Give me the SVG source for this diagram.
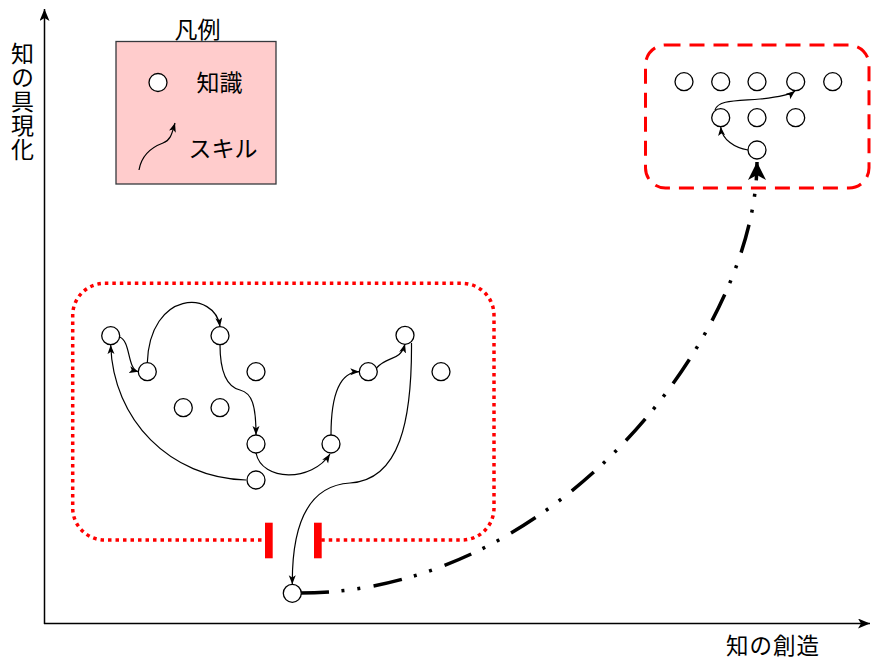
<svg xmlns="http://www.w3.org/2000/svg" width="873" height="660" viewBox="0 0 873 660">
<defs>
<style>
.n{fill:#fff;stroke:#000;stroke-width:1.3}
.e{fill:none;stroke:#000;stroke-width:1.2;marker-end:url(#a)}
.t{font-family:"Noto Sans CJK JP","Noto Sans",sans-serif;font-size:23px;fill:#000;text-anchor:middle;dominant-baseline:central}
.v{font-family:"Noto Sans CJK JP","Noto Sans",sans-serif;font-size:23px;fill:#000;writing-mode:vertical-rl;text-orientation:upright;letter-spacing:1px}
.ax{fill:none;stroke:#000;stroke-width:1.5;marker-end:url(#ax)}
</style>
<marker id="a" markerUnits="userSpaceOnUse" markerWidth="10" markerHeight="8" refX="9" refY="3.5" orient="auto"><path d="M0,0 L9,3.5 L0,7 L2.2,3.5 Z" fill="#000"/></marker>
<marker id="ax" markerUnits="userSpaceOnUse" markerWidth="13" markerHeight="11" refX="12" refY="5" orient="auto"><path d="M0,0 L12,5 L0,10 L3,5 Z" fill="#000"/></marker>
<marker id="big" markerUnits="userSpaceOnUse" markerWidth="20" markerHeight="20" refX="18" refY="9" orient="auto"><path d="M0,0 L18,9 L0,18 L5,9 Z" fill="#000"/></marker>
</defs>
<rect width="873" height="660" fill="#fff"/>

<g id="axes">
<path class="ax" d="M44.5,624 L44.5,9"/>
<path class="ax" d="M44,623.5 L870,623.5"/>
<text class="v" x="22.5" y="41.5">知の具現化</text>
<text class="t" x="773" y="644" style="font-size:22.5px;letter-spacing:1px">知の創造</text>
</g>

<g id="legend">
<text class="t" x="197.5" y="27.5">凡例</text>
<rect x="116" y="41.5" width="160" height="142.5" fill="#ffcccc" stroke="#36393d" stroke-width="1.3"/>
<circle class="n" cx="158" cy="82.5" r="9"/>
<text class="t" x="219.5" y="80.5">知識</text>
<path class="e" d="M139,170 C142,152 155,146 163,143 C171,140 172,133 175,123"/>
<text class="t" x="223" y="146.5">スキル</text>
</g>

<g id="group-left">
<path d="M269,540 L104.7,540 A32,32 0 0 1 72.7,508 L72.7,315.3 A32,32 0 0 1 104.7,283.3 L462,283.3 A32,32 0 0 1 494,315.3 L494,508 A32,32 0 0 1 462,540 L318,540" fill="none" stroke="#ff0000" stroke-width="3.5" stroke-dasharray="3.5 4"/>
<rect x="265" y="522.7" width="7.7" height="35.6" fill="#ff0000"/>
<rect x="314" y="522.7" width="7.7" height="35.6" fill="#ff0000"/>
</g>

<g id="group-right">
<rect x="645.5" y="45" width="223.5" height="143" rx="20" ry="20" fill="none" stroke="#ff0000" stroke-width="3" stroke-dasharray="15 9"/>
</g>

<g id="connectors">
<path class="e" d="M246,480 C170,478 113,420 110.7,345"/>
<path class="e" d="M119.5,337 C131,341 127,369 138.3,371.7"/>
<path class="e" d="M147.3,362.7 C150,290 215,290 220,326.7"/>
<path class="e" d="M220,344.7 C220,375 228,387 240,390 C252,393 256,405 256,435"/>
<path class="e" d="M256,453 C262,482 312,482 330,454"/>
<path class="e" d="M331,435 C331,395 340,372 359.3,371.7"/>
<path class="e" d="M376.5,368 C388,355 400,362 405,344"/>
<path class="e" d="M411.5,343 C412,420 400,480 350,483 C300,486 292,540 292.3,584.3"/>
<path class="e" d="M748,150 C735,148 722,140 720.7,126.7"/>
<path class="e" d="M715,110 C718,100 735,101 760,99 C780,97 790,95 795,91"/>
<path d="M300,593 C560,593 757,330 757,162" fill="none" stroke="#000" stroke-width="3.5" stroke-dasharray="29 12.5 3 13 3 13.5" marker-end="url(#big)"/>
</g>

<g id="nodes">
<circle id="nA" class="n" cx="110.7" cy="335.7" r="9"/>
<circle id="nB" class="n" cx="147.3" cy="371.7" r="9"/>
<circle id="nC" class="n" cx="220" cy="335.7" r="9"/>
<circle id="nD" class="n" cx="256" cy="371.7" r="9"/>
<circle id="nE" class="n" cx="183.3" cy="407.7" r="9"/>
<circle id="nF" class="n" cx="220" cy="407.7" r="9"/>
<circle id="nG" class="n" cx="256" cy="444" r="9"/>
<circle id="nH" class="n" cx="256" cy="480" r="9"/>
<circle id="nI" class="n" cx="331" cy="444" r="9"/>
<circle id="nJ" class="n" cx="368.3" cy="371.7" r="9"/>
<circle id="nK" class="n" cx="405" cy="335.3" r="9"/>
<circle id="nL" class="n" cx="441" cy="371.7" r="9"/>
<circle id="nM" class="n" cx="292.3" cy="593.3" r="9"/>
<circle id="r1" class="n" cx="684" cy="81.7" r="9"/>
<circle id="r2" class="n" cx="720.7" cy="81.7" r="9"/>
<circle id="r3" class="n" cx="757" cy="81.7" r="9"/>
<circle id="r4" class="n" cx="795.7" cy="81.7" r="9"/>
<circle id="r5" class="n" cx="832.7" cy="81.7" r="9"/>
<circle id="r6" class="n" cx="720.7" cy="117.7" r="9"/>
<circle id="r7" class="n" cx="757" cy="117.7" r="9"/>
<circle id="r8" class="n" cx="795.7" cy="117.7" r="9"/>
<circle id="r9" class="n" cx="757" cy="150" r="9"/>
</g>
</svg>
